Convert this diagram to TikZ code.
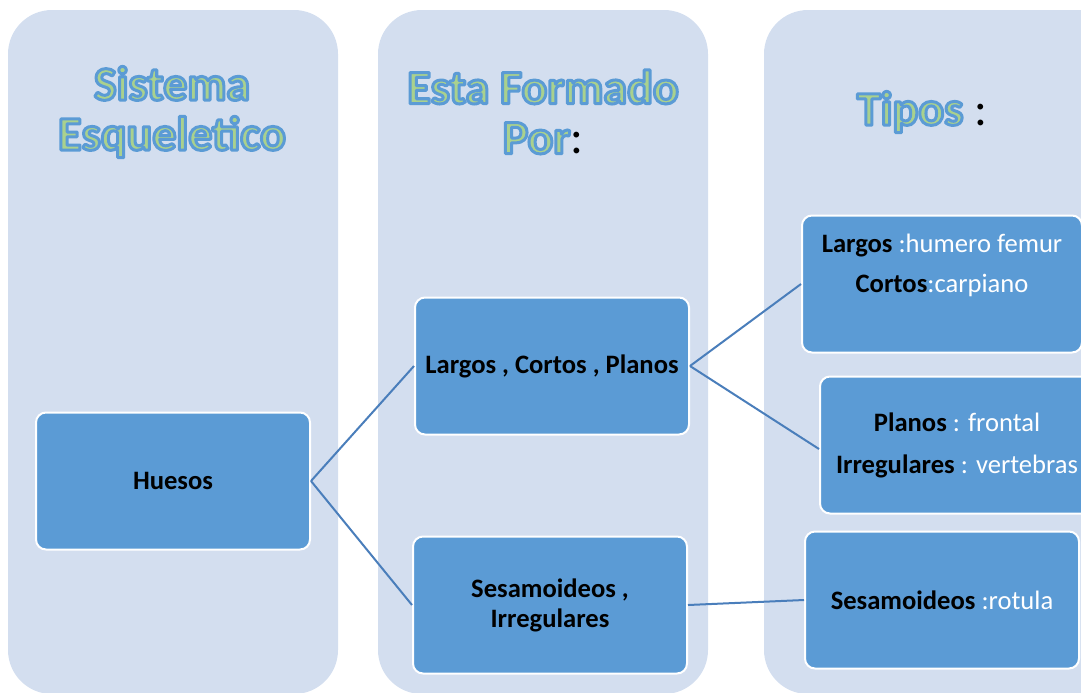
\documentclass[tikz,border=0pt]{standalone}
\usepackage{fontspec}
\setmainfont{Carlito}
\usepackage{tikz}
\usetikzlibrary{positioning}
\definecolor{colbg}{HTML}{D3DEEF}
\definecolor{boxblue}{HTML}{5B9BD5}
\definecolor{linkblue}{HTML}{4A7EBB}
\definecolor{artgreen}{HTML}{A9D18E}
% green letters with a blue outline (fill and stroke text)
\newcommand{\arttext}[1]{{\color{artgreen}\special{pdf:literal 2 Tr 1.5 w 1 j 0.357 0.608 0.835 RG}#1\special{pdf:literal 0 Tr}}}

\tikzset{
  column/.style={fill=colbg, rounded corners=22pt},
  bonebox/.style={draw=white, line width=1pt, fill=boxblue, rounded corners=5pt,
    minimum width=137pt, minimum height=68.5pt, align=center, inner sep=2pt,
    font=\fontsize{13.3}{15}\selectfont},
  header/.style={align=center, font=\fontsize{24}{25}\selectfont\bfseries},
  link/.style={draw=linkblue, line width=1pt}
}

\begin{document}
\begin{tikzpicture}[x=0.5pt, y=-0.5pt]
  \useasboundingbox (0,0) rectangle (1081,692);
  \clip (0,0) rectangle (1081,692);

  % columns
  \fill[column] (8,10) rectangle (338,694);
  \fill[column] (378,10) rectangle (708,694);
  \fill[column] (764,10) rectangle (1130,694);

  % headers
  \node[header] (h1) at (172,112) {\arttext{Sistema}\\\arttext{Esqueletico}};
  \node[header] (h2) at (543,112) {\arttext{Esta Formado}\\\arttext{Por}{\mdseries:}};
  \node[header] (h3) at (922,112) {\arttext{Tipos} {\mdseries:}};

  % boxes
  \node[bonebox] (huesos) at (173,481) {\textbf{Huesos}};
  \node[bonebox] (lcp) at (552,366) {\textbf{Largos , Cortos , Planos}};
  \node[bonebox] (si) at (550,605) {\textbf{Sesamoideos ,}\\\textbf{Irregulares}};

  \node[bonebox] (largos) at (942,284) {\parbox[c][64pt][t]{136pt}{\centering\baselineskip=20pt
    \vspace{7pt}\textbf{Largos} \textcolor{white}{:humero femur}\\
    \textbf{Cortos}\textcolor{white}{:carpiano}}};
  \node[bonebox] (planos) at (957,445) {\textbf{Planos} \textcolor{white}{: frontal}\\[6pt]
    \textbf{Irregulares} \textcolor{white}{: vertebras}};
  \node[bonebox] (sesamo) at (942,600) {\textbf{Sesamoideos} \textcolor{white}{:rotula}};

  % links
  \path[link] (huesos.east) -- (lcp.west);
  \path[link] (huesos.east) -- (si.west);
  \path[link] (lcp.east) -- (largos.west);
  \path[link] (lcp.east) -- ([yshift=-2pt]planos.west);
  \path[link] (si.east) -- (sesamo.west);
\end{tikzpicture}
\end{document}
